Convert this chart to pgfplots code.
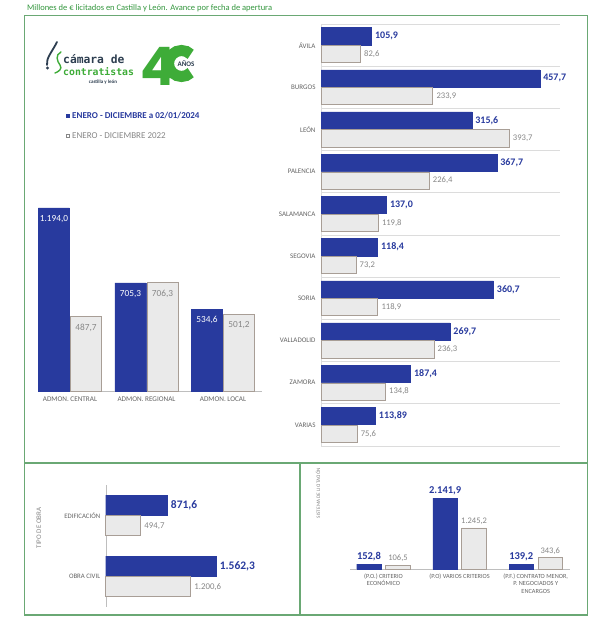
\documentclass[border=0pt]{standalone}
\usepackage{pgfplots}
\usepackage{pgfplotstable}
\pgfplotsset{compat=1.18}
\usepackage{fontspec}
\setmainfont{Carlito}
\newfontfamily\poppins{Poppins}
\newfontfamily\logomono{DejaVu Sans Mono}
\definecolor{cblue}{RGB}{40,58,158}
\definecolor{cgreyfill}{RGB}{234,234,234}
\definecolor{cgreyedge}{RGB}{168,158,150}
\definecolor{clabgrey}{RGB}{135,135,135}
\definecolor{ccat}{RGB}{100,100,100}
\definecolor{cgrid}{RGB}{220,220,220}
\definecolor{cgridd}{RGB}{190,190,190}
\definecolor{cframe}{RGB}{106,168,116}
\definecolor{ctitle}{RGB}{50,150,60}
\definecolor{clogo}{RGB}{62,172,56}
\definecolor{clogodark}{RGB}{45,62,80}
\newcommand{\fs}[1]{\fontsize{#1}{#1}\selectfont}

\pgfplotstableread{
x y lab
0 1194.0 1.194,0
1 705.3 705,3
2 534.6 534,6
}\admonA
\pgfplotstableread{
x y lab
0 487.7 487,7
1 706.3 706,3
2 501.2 501,2
}\admonB
\pgfplotstableread{
y v lab
9 105.9 105,9
8 457.7 457,7
7 315.6 315,6
6 367.7 367,7
5 137.0 137,0
4 118.4 118,4
3 360.7 360,7
2 269.7 269,7
1 187.4 187,4
0 113.89 113,89
}\provA
\pgfplotstableread{
y v lab
9 82.6 82,6
8 233.9 233,9
7 393.7 393,7
6 226.4 226,4
5 119.8 119,8
4 73.2 73,2
3 118.9 118,9
2 236.3 236,3
1 134.8 134,8
0 75.6 75,6
}\provB
\pgfplotstableread{
y v lab
1 871.6 871,6
0 1562.3 1.562,3
}\obraA
\pgfplotstableread{
y v lab
1 494.7 494,7
0 1200.6 1.200,6
}\obraB
\pgfplotstableread{
x y lab
0 152.8 152,8
1 2141.9 2.141,9
2 139.2 139,2
}\sistA
\pgfplotstableread{
x y lab
0 106.5 106,5
1 1245.2 1.245,2
2 343.6 343,6
}\sistB

\begin{document}
\begin{tikzpicture}
\path[use as bounding box] (0,0) rectangle (590pt,618pt);
\fill[white] (0,0) rectangle (590pt,618pt);
\begin{scope}[x=1pt,y=1pt]
% frames
\draw[cframe, line width=1.6pt] (24.5,3) rectangle (587.5,602.5);
\draw[cframe, line width=1.6pt] (24.5,155) -- (587.5,155);
\draw[cframe, line width=1.2pt] (300,3) -- (300,155);
% title
\node[anchor=base west, inner sep=0pt, text=ctitle, font=\fs{8.5}] at (27,607.5) {Millones de € licitados en Castilla y León. Avance por fecha de apertura};
% logo icon
\draw[clogodark, line width=1.8pt, line cap=round] (57,576) .. controls (52,566) and (46,560) .. (47,553);
\fill[clogodark] (47.5,550) circle (1.6);
\draw[clogo, line width=1.4pt, line cap=round] (61,566) .. controls (55,563) and (57,557) .. (60,553) .. controls (63,549) and (58,546) .. (55,545);
% logo text
\node[anchor=west, inner sep=0pt, text=clogodark, font=\logomono\bfseries\fs{11.3}] at (63,559) {cámara de};
\node[anchor=west, inner sep=0pt, text=clogo, font=\logomono\bfseries\fs{9.8}] at (63,546.5) {contratistas};
\node[inner sep=0pt, text=clogodark, font=\bfseries\fs{5}] at (103,536) {castilla y león};
\node[inner sep=0pt, text=clogo, font=\poppins\bfseries\fs{53}] at (158,552) {4};
\draw[clogo, line width=11pt] (181.5,554.5) ++(45:13) arc (45:315:13);
\node[fill=white, inner sep=0.6pt, text=clogodark, font=\bfseries\fs{7}] at (186,554.5) {AÑOS};
% legend
\fill[cblue] (66,500.3) rectangle (69.5,503.8);
\node[anchor=west, inner sep=0pt, text=cblue, font=\bfseries\fs{9}] at (72,502) {ENERO - DICIEMBRE a 02/01/2024};
\draw[clabgrey, line width=0.5pt] (66.2,480.3) rectangle (69.3,483.4);
\node[anchor=west, inner sep=0pt, text=clabgrey, font=\fs{9}] at (72,482) {ENERO - DICIEMBRE 2022};
% rotated labels
\node[rotate=90, inner sep=0pt, font=\fs{7}, text=clabgrey] at (39,90) {TIPO DE OBRA};
\node[rotate=90, inner sep=0pt, font=\fs{5.2}, text=clabgrey] at (318,125) {SISTEMA DE LICITACIÓN};
\end{scope}

% upper-left: administraciones
\begin{axis}[at={(38pt,227pt)}, anchor=south west, scale only axis,
 width=224pt, height=184pt,
 xmin=-0.418, xmax=2.51, ymin=0, ymax=1200,
 ybar=1pt, bar width=31pt,
 axis x line*=bottom, axis y line=none,
 x axis line style={draw=cgridd, line width=0.8pt, -},
 xtick={0,1,2}, xticklabels={ADMON. CENTRAL,ADMON. REGIONAL,ADMON. LOCAL},
 major tick length=0pt,
 xticklabel style={font=\fs{7.2}, text=ccat, yshift=-2pt},
 point meta=explicit symbolic, nodes near coords, clip=false]
\addplot[fill=cblue, draw=cblue, nodes near coords style={anchor=north, yshift=-4pt, text=white, font=\fs{9.3}}] table[x=x,y=y,meta=lab]{\admonA};
\addplot[fill=cgreyfill, draw=cgreyedge, line width=0.8pt, nodes near coords style={anchor=north, yshift=-4pt, text=clabgrey, font=\fs{9.3}}] table[x=x,y=y,meta=lab]{\admonB};
\end{axis}

% upper-right: provincias
\begin{axis}[at={(321pt,172pt)}, anchor=south west, scale only axis,
 width=239pt, height=422pt,
 xmin=0, xmax=500, ymin=-0.5, ymax=9.5,
 xbar, bar width=17.2pt,
 axis x line=none, axis y line*=left,
 y axis line style={draw=cgrid, -},
 ytick={0,...,9},
 yticklabels={VARIAS,ZAMORA,VALLADOLID,SORIA,SEGOVIA,SALAMANCA,PALENCIA,LEÓN,BURGOS,ÁVILA},
 minor ytick={-0.5,0.5,...,9.5}, yminorgrids,
 minor grid style={draw=cgrid, line width=0.6pt},
 major tick length=0pt, minor tick length=0pt,
 yticklabel style={font=\fs{7}, text=ccat, xshift=-2pt},
 point meta=explicit symbolic, nodes near coords, clip=false]
\addplot[bar shift=8.9pt, fill=cblue, draw=cblue, nodes near coords style={anchor=west, font=\bfseries\fs{10}, text=cblue}] table[x=v,y=y,meta=lab]{\provA};
\addplot[bar shift=-8.9pt, fill=cgreyfill, draw=cgreyedge, line width=0.8pt, nodes near coords style={anchor=west, font=\fs{8.6}, text=clabgrey}] table[x=v,y=y,meta=lab]{\provB};
\end{axis}

% bottom-left: tipo de obra
\begin{axis}[at={(105.7pt,11pt)}, anchor=south west, scale only axis,
 width=177pt, height=122pt,
 xmin=0, xmax=2500, ymin=-0.5, ymax=1.5,
 xbar, bar width=20pt,
 axis x line=none, axis y line*=left,
 y axis line style={draw=cgridd, -},
 ytick={0,1}, yticklabels={OBRA CIVIL,EDIFICACIÓN},
 major tick length=0pt,
 yticklabel style={font=\fs{6.8}, text=ccat, xshift=-2pt},
 point meta=explicit symbolic, nodes near coords, clip=false]
\addplot[bar shift=10.3pt, fill=cblue, draw=cblue, nodes near coords style={anchor=west, font=\bfseries\fs{11.5}, text=cblue}] table[x=v,y=y,meta=lab]{\obraA};
\addplot[bar shift=-10.3pt, fill=cgreyfill, draw=cgreyedge, line width=0.8pt, nodes near coords style={anchor=west, font=\fs{8.8}, text=clabgrey}] table[x=v,y=y,meta=lab]{\obraB};
\end{axis}

% bottom-right: sistema de licitacion
\begin{axis}[at={(350pt,48.7pt)}, anchor=south west, scale only axis,
 width=220pt, height=83pt,
 xmin=-0.44, xmax=2.45, ymin=0, ymax=2500,
 ybar=4.5pt, bar width=24.5pt,
 axis x line*=bottom, axis y line=none,
 x axis line style={draw=cgridd, line width=0.8pt, -},
 xtick={0,1,2},
 xticklabels={{(P.O.) CRITERIO\\ECONÓMICO},{(P.O) VARIOS CRITERIOS},{(P.F.) CONTRATO MENOR,\\P. NEGOCIADOS Y\\ENCARGOS}},
 xticklabel style={font=\fontsize{6.3}{7.3}\selectfont, text=ccat, align=center, yshift=-1pt},
 major tick length=0pt,
 point meta=explicit symbolic, nodes near coords, clip=false]
\addplot[fill=cblue, draw=cblue, nodes near coords style={font=\bfseries\fs{10.5}, text=cblue}] table[x=x,y=y,meta=lab]{\sistA};
\addplot[fill=cgreyfill, draw=cgreyedge, line width=0.8pt, nodes near coords style={font=\fs{8.5}, text=clabgrey}] table[x=x,y=y,meta=lab]{\sistB};
\end{axis}
\end{tikzpicture}
\end{document}
